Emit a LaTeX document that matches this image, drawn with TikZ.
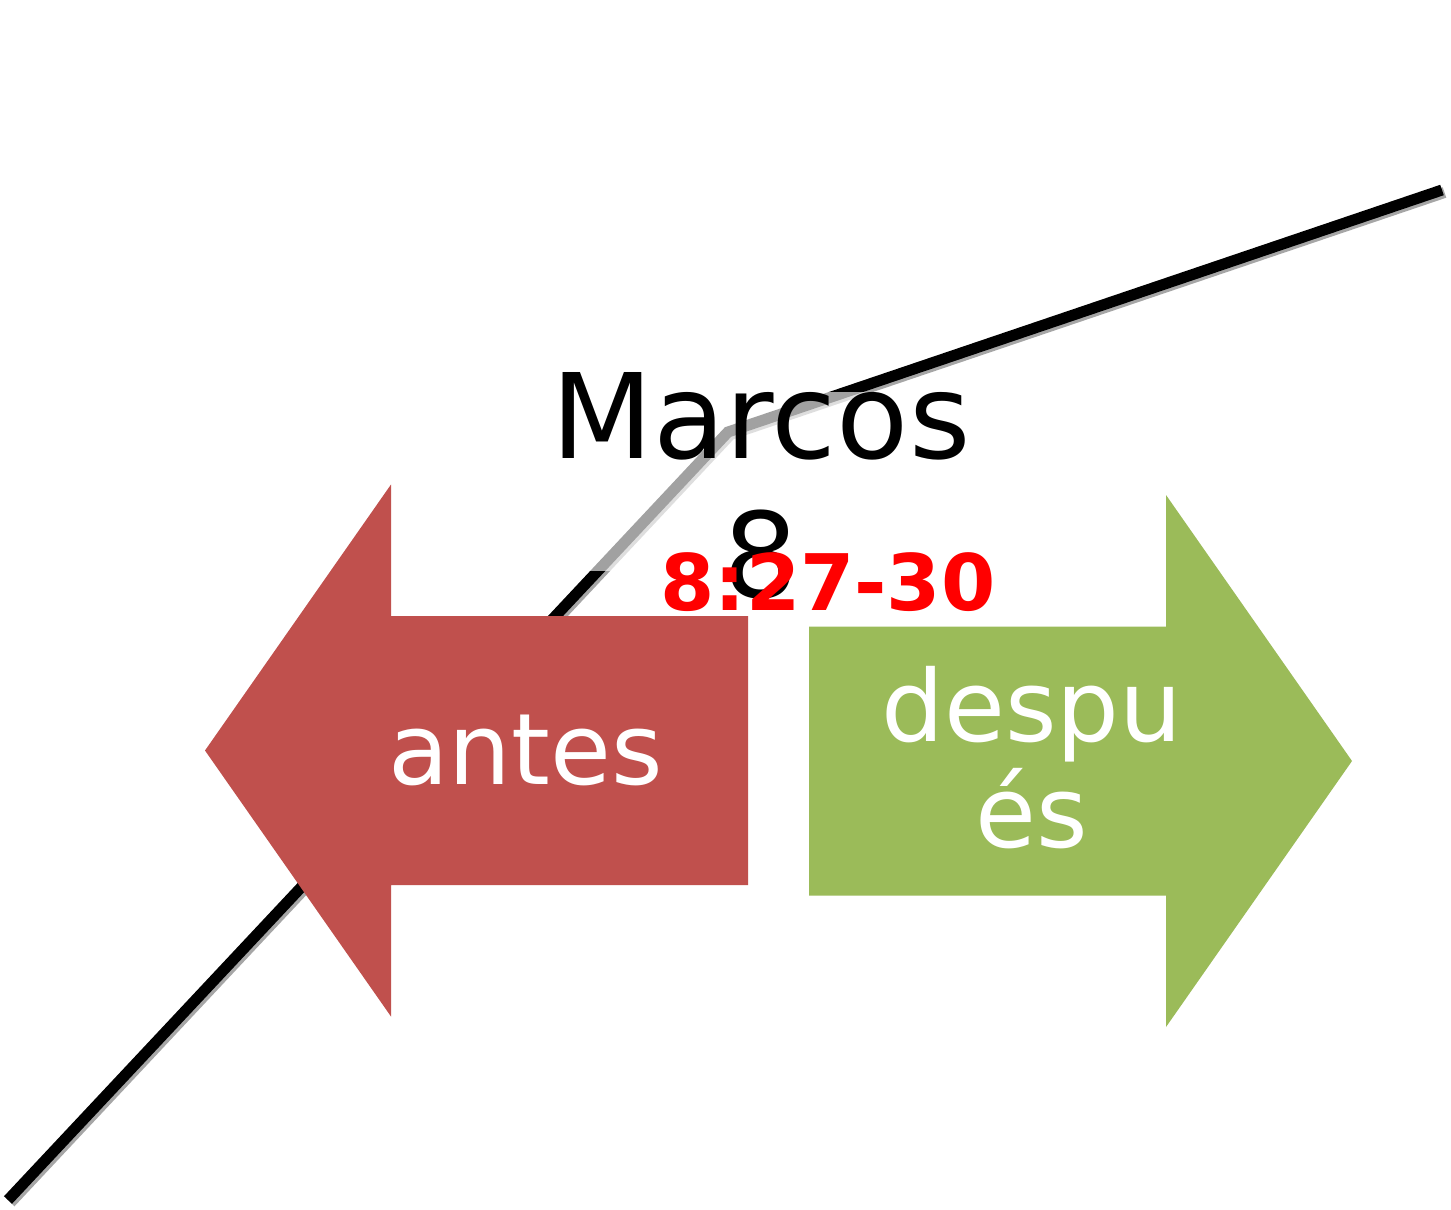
\documentclass[tikz,border=0pt]{standalone}
\usepackage{fontspec}
\setmainfont{DejaVu Sans}
\usetikzlibrary{calc}

\definecolor{antesred}{HTML}{C0504D}
\definecolor{despuesgreen}{HTML}{9BBB59}
\definecolor{shadowgray}{HTML}{A6A6A6}

\begin{document}
\begin{tikzpicture}[x=1pt,y=-1pt]
	
		\tikzset{linestyle/.style={line width=11pt, line cap=butt, line join=miter}}
		\tikzset{shadowstyle/.style={linestyle, draw=shadowgray}}
		\tikzset{veilstyle/.style={fill=white, fill opacity=0.63}}
		\tikzset{labelstyle/.style={inner sep=0pt, anchor=base, align=center}}
		
		\newcommand\headLength{186}
		\newcommand\headHalf{266}
		\newcommand\shaftHalf{134.5}
		\newcommand\arrowLength{543}
		
		\newcommand\blockArrow[5] % {name}{colour}{tip x}{direction}{centre y}
		{
			\coordinate (#1tip) at (#3,#5);
			\fill[#2] (#1tip)
			-- ({#3+(#4)*\headLength},{#5-\headHalf})
			-- ({#3+(#4)*\headLength},{#5-\shaftHalf})
			-- ({#3+(#4)*\arrowLength},{#5-\shaftHalf})
			-- ({#3+(#4)*\arrowLength},{#5+\shaftHalf})
			-- ({#3+(#4)*\headLength},{#5+\shaftHalf})
			-- ({#3+(#4)*\headLength},{#5+\headHalf})
			-- cycle;
		}
		
		\path[fill=white] (0,0) rectangle (1451,1210);
		\useasboundingbox (0,0) rectangle (1451,1210);
		
		% the bent line behind everything
		\coordinate (lineStart) at (8,1200);
		\coordinate (lineBend) at (728,432);
		\coordinate (lineEnd) at (1442,190);
		\draw[shadowstyle]
		($(lineStart)+(2.5,2.5)$) -- ($(lineBend)+(2.5,2.5)$) -- ($(lineEnd)+(2.5,2.5)$);
		\draw[linestyle] (lineStart) -- (lineBend) -- (lineEnd);
		
		\blockArrow{antesArrow}{antesred}{205}{1}{750.5}
		\blockArrow{despuesArrow}{despuesgreen}{1352}{-1}{761}
		
		\fill[veilstyle] (560,392) rectangle (960,571);
		
		% base anchor sits on the last line
		\node[labelstyle, text=white, font=\fontsize{99}{106}\selectfont] (antes) at (525.5,784) {antes};
		\node[labelstyle, text=white, font=\fontsize{99}{106}\selectfont] (despues) at (1032,847) {despu\\és};
		\node[labelstyle, font=\fontsize{118}{139}\selectfont] (marcos) at (761,597) {Marcos\\8};
		\node[labelstyle, text=red, font=\bfseries\fontsize{78}{90}\selectfont] (verses) at (828,610) {8:27-30};
	\end{tikzpicture}
\end{document}
